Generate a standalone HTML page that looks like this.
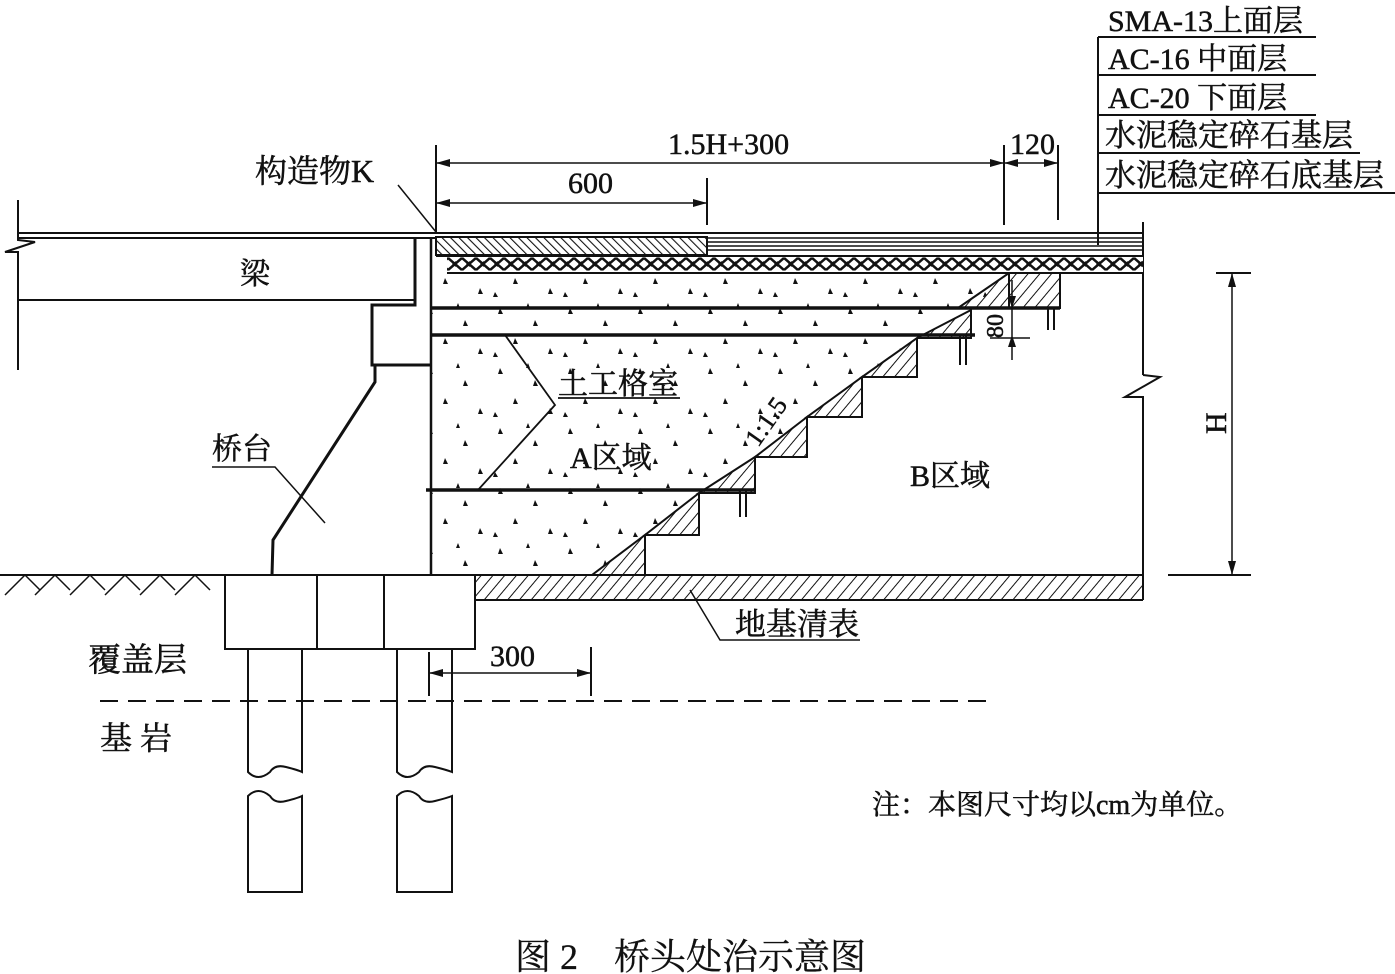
<!DOCTYPE html>
<html><head><meta charset="utf-8">
<style>
html,body{margin:0;padding:0;background:#fff;}
svg{display:block;}
text{font-family:"Liberation Serif","Noto Serif CJK SC",serif;fill:#111;stroke:#111;stroke-width:0.5;}
</style></head><body>
<svg width="1395" height="974" viewBox="0 0 1395 974" xmlns="http://www.w3.org/2000/svg">
<defs>
<pattern id="hatch" width="9" height="9" patternUnits="userSpaceOnUse" patternTransform="rotate(40)">
<line x1="0" y1="0" x2="0" y2="9" stroke="#111" stroke-width="2"/>
</pattern>
<pattern id="hatchF" width="6" height="6" patternUnits="userSpaceOnUse" patternTransform="rotate(-45)">
<line x1="0" y1="0" x2="0" y2="6" stroke="#111" stroke-width="2.2"/>
</pattern>
<pattern id="xx" width="14" height="16" patternUnits="userSpaceOnUse">
<rect width="14" height="16" fill="#fff"/>
<path d="M0 2 L7 8 L0 14 M14 2 L7 8 L14 14" stroke="#111" stroke-width="2.5" fill="none"/>
<path d="M4 8 l4 -3 v6z" fill="#111"/>
</pattern>
<pattern id="dots" width="70" height="60" patternUnits="userSpaceOnUse">
<path d="M10 8 l3 6 h-5z M45 20 l3 6 h-5z M25 38 l3 6 h-5z M60 48 l3 6 h-5z M5 52 l3 5 h-5z M38 3 l2 5 h-4z" fill="#111"/>
</pattern>
</defs>
<g stroke="#111" fill="none" stroke-width="2">
<line x1="1098" y1="37" x2="1098" y2="245"/>
<line x1="1098" y1="37" x2="1316" y2="37"/>
<line x1="1098" y1="75" x2="1316" y2="75"/>
<line x1="1098" y1="115" x2="1316" y2="115"/>
<line x1="1098" y1="153" x2="1360" y2="153"/>
<line x1="1098" y1="193" x2="1395" y2="193"/>
<line x1="436" y1="145" x2="436" y2="232"/>
<line x1="707" y1="178" x2="707" y2="225"/>
<line x1="1004" y1="145" x2="1004" y2="225"/>
<line x1="1058" y1="145" x2="1058" y2="220"/>
<line x1="436" y1="163" x2="1058" y2="163" stroke-width="1.5"/>
<line x1="436" y1="203" x2="707" y2="203" stroke-width="1.5"/>
<line x1="18" y1="233" x2="1143" y2="233"/>
<line x1="18" y1="238" x2="436" y2="238"/>
<line x1="707" y1="238" x2="1143" y2="238" stroke-width="1.5"/>
<line x1="707" y1="242" x2="1143" y2="242" stroke-width="1.5"/>
<line x1="707" y1="246" x2="1143" y2="246" stroke-width="1.5"/>
<line x1="707" y1="250" x2="1143" y2="250" stroke-width="1.5"/>
<line x1="436" y1="256" x2="1143" y2="256"/>
<line x1="1143" y1="222" x2="1143" y2="375"/>
<polyline points="1143,375 1160,377 1125,397 1143,397 1143,600"/>
</g>
<rect x="436" y="237" width="271" height="18" fill="url(#hatchF)" stroke="#111" stroke-width="2"/>
<rect x="447" y="257" width="696" height="16" fill="url(#xx)"/>
<line x1="447" y1="273" x2="1143" y2="273" stroke="#111" stroke-width="2"/>
<polygon points="431,575 431,292 447,273 1009,273 971,310 917,338 862,377 807,417 755,457 699,493 645,535 592,575" fill="url(#dots)"/>
<g fill="url(#hatch)" stroke="#111" stroke-width="2">
<polygon points="592,575 645,575 645,535"/>
<polygon points="645,535 699,535 699,493"/>
<polygon points="699,493 755,493 755,457"/>
<polygon points="755,457 807,457 807,417"/>
<polygon points="807,417 862,417 862,377"/>
<polygon points="862,377 917,377 917,338"/>
<polygon points="917,338 971,338 971,310"/>
<polygon points="958,308 1009,273 1060,273 1060,308"/>
<line x1="1009" y1="273" x2="1009" y2="308"/>
</g>
<g stroke="#111" fill="none" stroke-width="2">
<line x1="431" y1="308" x2="1060" y2="308" stroke-width="3.5"/>
<line x1="431" y1="335" x2="975" y2="335" stroke-width="3.5"/>
<line x1="426" y1="490" x2="755" y2="490" stroke-width="3.5"/>
<line x1="960" y1="335" x2="960" y2="365"/><line x1="966" y1="335" x2="966" y2="365"/>
<line x1="1048" y1="308" x2="1048" y2="330"/><line x1="1054" y1="308" x2="1054" y2="330"/>
<line x1="740" y1="490" x2="740" y2="517"/><line x1="746" y1="490" x2="746" y2="517"/>
<line x1="1012" y1="280" x2="1012" y2="360" stroke-width="1.5"/>
<line x1="990" y1="338" x2="1030" y2="338" stroke-width="1.5"/>
<polyline points="505,335 555,405 478,490" stroke-width="1.8"/>
<line x1="558" y1="398" x2="680" y2="398" stroke-width="1.8"/>
<line x1="18" y1="300" x2="415" y2="300"/>
<polyline points="18,200 18,240 35,242 5,252 18,252 18,370"/>
<polyline points="415,238 415,305 372,305 372,365 432,365" stroke-width="3"/>
<line x1="431" y1="238" x2="431" y2="575" stroke-width="2.5"/>
<polyline points="375,365 375,382 273,540 272,575" stroke-width="3"/>
<polyline points="212,467 275,467 325,523" stroke-width="1.5"/>
<line x1="398" y1="185" x2="436" y2="232" stroke-width="1.5"/>
<line x1="0" y1="575" x2="225" y2="575"/>
<line x1="475" y1="575" x2="1143" y2="575"/>
<line x1="475" y1="600" x2="1143" y2="600"/>
<rect x="225" y="575" width="250" height="74"/>
<line x1="317" y1="575" x2="317" y2="649"/>
<line x1="384" y1="575" x2="384" y2="649"/>
<path d="M248 649 V772 q10 10 22 0 q5 -8 16 -5 q12 3 16 5 V649"/>
<path d="M248 892 V796 q10 -10 22 0 q5 8 16 5 q12 -3 16 -5 V892 Z"/>
<path d="M397 649 V772 q10 10 22 0 q5 -8 16 -5 q12 3 17 5 V649"/>
<path d="M397 892 V796 q10 -10 22 0 q5 8 16 5 q12 -3 17 -5 V892 Z"/>
<path d="M5 595 l20 -20 M25 575 l15 15 M35 595 l20 -20 M55 575 l15 15 M70 595 l20 -20 M90 575 l15 15 M105 595 l20 -20 M125 575 l15 15 M140 595 l20 -20 M160 575 l15 15 M175 595 l20 -20 M195 575 l15 15" stroke-width="1.5"/>
<line x1="100" y1="701" x2="995" y2="701" stroke-dasharray="18,10"/>
<line x1="429" y1="652" x2="429" y2="696"/>
<line x1="591" y1="647" x2="591" y2="696"/>
<line x1="429" y1="673" x2="591" y2="673" stroke-width="1.5"/>
<polyline points="690,590 720,640 860,640" stroke-width="1.5"/>
<line x1="1216" y1="273" x2="1251" y2="273"/>
<line x1="1168" y1="575" x2="1251" y2="575"/>
<line x1="1232" y1="273" x2="1232" y2="575" stroke-width="1.5"/>
</g>
<rect x="475" y="576" width="668" height="24" fill="url(#hatch)"/>
<g fill="#111">
<path d="M436 163 l14 -4 v8z M1004 163 l-14 -4 v8z M1004 163 l14 -4 v8z M1058 163 l-14 -4 v8z"/>
<path d="M436 203 l14 -4 v8z M707 203 l-14 -4 v8z"/>
<path d="M429 673 l14 -4 v8z M591 673 l-14 -4 v8z"/>
<path d="M1232 273 l-4 14 h8z M1232 575 l-4 -14 h8z"/>
<path d="M1012 308 l-4 -12 h8z M1012 335 l-4 12 h8z"/>
</g>
<g font-size="30">
<text x="1108" y="31">SMA-13上面层</text>
<text x="1108" y="69">AC-16 中面层</text>
<text x="1108" y="108">AC-20 下面层</text>
<text x="1105" y="146" font-size="31">水泥稳定碎石基层</text>
<text x="1105" y="186" font-size="31">水泥稳定碎石底基层</text>
<text x="668" y="154">1.5H+300</text>
<text x="1010" y="154">120</text>
<text x="568" y="193">600</text>
<text x="255" y="182" font-size="32">构造物K</text>
<text x="240" y="284">梁</text>
<text x="558" y="394">土工格室</text>
<text x="570" y="468">A区域</text>
<text x="910" y="486">B区域</text>
<text x="212" y="459">桥台</text>
<text transform="translate(758,448) rotate(-55)" font-size="26">1:1.5</text>
<text transform="translate(1003,338) rotate(-90)" font-size="24">80</text>
<text transform="translate(1226,434) rotate(-90)">H</text>
<text x="490" y="666">300</text>
<text x="735" y="635" font-size="31">地基清表</text>
<text x="88" y="671" font-size="33">覆盖层</text>
<text x="100" y="749" font-size="32">基  岩</text>
<text x="872" y="814" font-size="28">注：本图尺寸均以cm为单位。</text>
<text x="515" y="969" font-size="36" style="stroke-width:0.3">图 2　桥头处治示意图</text>
</g>
</svg>
</body></html>
